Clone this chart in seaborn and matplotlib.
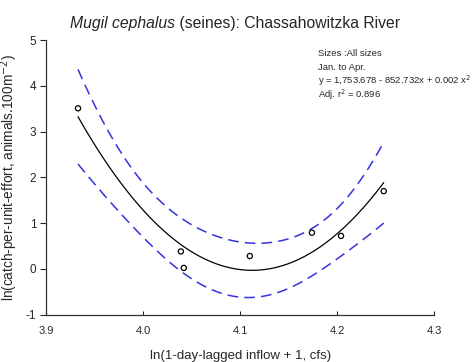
import numpy as np
import pandas as pd
import matplotlib
matplotlib.use("Agg")
import matplotlib.pyplot as plt
import seaborn as sns

# Observed data
inflow = [3.933, 4.039, 4.042, 4.110, 4.174, 4.204, 4.248]
cpue = [3.51, 0.38, 0.02, 0.28, 0.79, 0.72, 1.70]

x_ticks = [3.9, 4.0, 4.1, 4.2, 4.3]
y_ticks = [-1, 0, 1, 2, 3, 4, 5]

title_italic = "Mugil cephalus"
title_rest = " (seines): Chassahowitzka River"
info_lines = ["Sizes :All sizes", "Jan. to Apr.",
              "y = 1,753.678 - 852.732x + 0.002 x$^2$",
              "Adj. r$^2$ = 0.896"]

sns.set_style("ticks")
plt.rcParams['font.family'] = ['Liberation Sans', 'DejaVu Sans']

fig = plt.figure(figsize=(4.74, 3.62), dpi=100)
ax = fig.add_axes([0.097, 0.131, 0.819, 0.758])

df = pd.DataFrame({"x": inflow, "y": cpue})

# quadratic regression + 95% confidence interval of the mean
xa = np.array(inflow); ya = np.array(cpue)
X = np.column_stack([np.ones_like(xa), xa, xa**2])
beta, *_ = np.linalg.lstsq(X, ya, rcond=None)
resid = ya - X @ beta
n, p = X.shape
s2 = resid @ resid / (n - p)
XtXi = np.linalg.inv(X.T @ X)
xg = np.linspace(min(inflow), max(inflow), 200)
Xg = np.column_stack([np.ones_like(xg), xg, xg**2])
yg = Xg @ beta
se_mean = np.sqrt(s2 * np.einsum('ij,jk,ik->i', Xg, XtXi, Xg))
tval = 2.776
fit = pd.DataFrame({"x": xg, "y": yg, "lo": yg - tval * se_mean, "hi": yg + tval * se_mean})

sns.lineplot(data=fit, x="x", y="y", ax=ax, color="black", lw=0.9)
sns.lineplot(data=fit, x="x", y="hi", ax=ax, color="#3333dd", lw=1.1, linestyle=(0, (7, 4)))
sns.lineplot(data=fit, x="x", y="lo", ax=ax, color="#3333dd", lw=1.1, linestyle=(0, (7, 4)))
sns.scatterplot(data=df, x="x", y="y", ax=ax, marker="o", s=14, facecolor="none",
                edgecolor="black", linewidth=0.9, zorder=5)

ax.set_xlim(3.9, 4.3)
ax.set_ylim(-1, 5)
ax.set_xticks(x_ticks)
ax.set_yticks(y_ticks)
ax.set_xticklabels([f"{t:.1f}" for t in x_ticks], fontsize=8)
ax.set_yticklabels([str(t) for t in y_ticks], fontsize=8.5)
ax.tick_params(axis='y', direction='out', length=4, width=0.8, pad=3)
ax.tick_params(axis='x', direction='in', length=3, width=0.8, pad=8)
for sp in ["top", "right"]:
    ax.spines[sp].set_visible(False)
for sp in ["left", "bottom"]:
    ax.spines[sp].set_linewidth(0.9)
    ax.spines[sp].set_color("#333333")

ax.set_xlabel("ln(1-day-lagged inflow + 1, cfs)", fontsize=9.5, labelpad=10)
ax.set_ylabel("ln(catch-per-unit-effort, animals.100m$^{-2}$)", fontsize=9.8, labelpad=4)

t1 = fig.text(0.148, 0.922, title_italic, fontsize=11.3, style="italic", ha="left", va="baseline")
fig.canvas.draw()
bb = t1.get_window_extent(renderer=fig.canvas.get_renderer())
x_end = bb.x1 / fig.bbox.width
fig.text(x_end, 0.922, title_rest, fontsize=11.3, ha="left", va="baseline")

for i, line in enumerate(info_lines):
    fig.text(0.671, 0.852 - i * 0.038, line, fontsize=6.8, ha="left", va="center")

fig.savefig("out.png", dpi=100)
